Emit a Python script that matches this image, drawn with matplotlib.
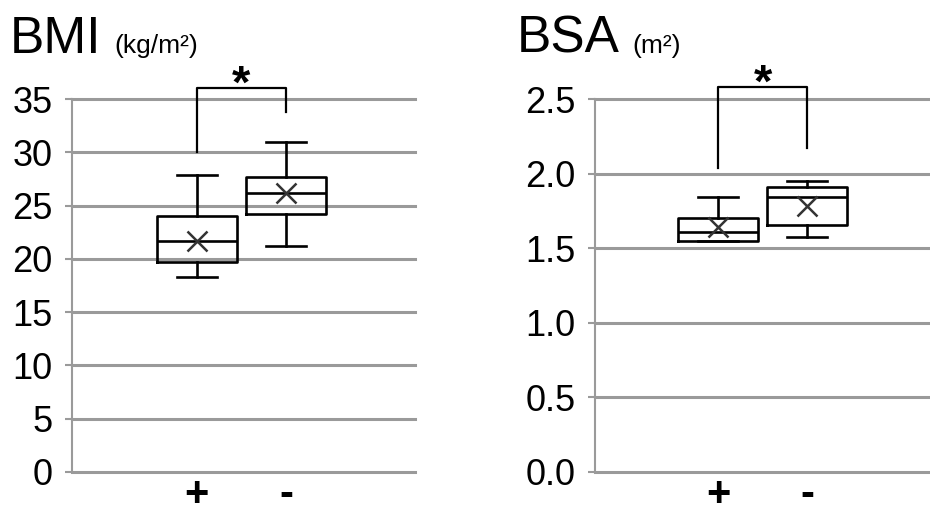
import matplotlib.pyplot as plt

plt.rcParams['font.family'] = ['Liberation Sans', 'DejaVu Sans']

groups = ["+", "-"]

# BMI (kg/m2) box stats
bmi_whislo = [18.3, 21.2]
bmi_q1 = [19.75, 24.2]
bmi_med = [21.7, 26.2]
bmi_q3 = [24.0, 27.7]
bmi_whishi = [27.9, 31.0]
bmi_mean = [21.7, 26.2]

# BSA (m2)
bsa_whislo = [1.545, 1.575]
bsa_q1 = [1.545, 1.655]
bsa_med = [1.61, 1.84]
bsa_q3 = [1.70, 1.91]
bsa_whishi = [1.84, 1.95]
bsa_mean = [1.645, 1.78]

bmi_ticks = [0, 5, 10, 15, 20, 25, 30, 35]
bsa_ticks = [0.0, 0.5, 1.0, 1.5, 2.0, 2.5]
bsa_labels = ["0.0", "0.5", "1.0", "1.5", "2.0", "2.5"]

# significance brackets: (left leg bottom, right leg bottom, top)
bmi_bracket = [30.0, 33.8, 36.0]
bsa_bracket = [2.04, 2.17, 2.58]


def make_stats(lo, q1, med, q3, hi, mean):
    stats = []
    for i in range(len(lo)):
        stats.append({"whislo": lo[i], "q1": q1[i], "med": med[i], "q3": q3[i],
                      "whishi": hi[i], "mean": mean[i], "fliers": [], "label": groups[i]})
    return stats


def draw_panel(ax, stats, ticks, labels, ymax, bracket, xlim):
    lw = 1.9
    grid_col = "#9a9a9a"
    ax.bxp(stats, positions=[1, 2], widths=0.89, showmeans=True,
           boxprops=dict(color="black", linewidth=lw),
           medianprops=dict(color="black", linewidth=lw),
           whiskerprops=dict(color="black", linewidth=lw),
           capprops=dict(color="black", linewidth=lw),
           capwidths=0.45,
           meanprops=dict(marker="x", markersize=15, markeredgecolor="#333333",
                          markeredgewidth=1.8))
    ax.set_xlim(xlim)
    ax.set_ylim(0, ymax)
    ax.set_yticks(ticks)
    ax.set_yticklabels(labels, fontsize=26)
    ax.set_xticks([1, 2])
    ax.set_xticklabels(groups, fontsize=30, fontweight="bold")
    ax.tick_params(axis="y", length=5, width=1.5, color=grid_col, pad=9, direction="out")
    ax.tick_params(axis="x", length=0, pad=2)
    for s in ax.spines.values():
        s.set_visible(False)
    ax.spines["left"].set_visible(True)
    ax.spines["left"].set_color(grid_col)
    ax.spines["left"].set_linewidth(1.5)
    ax.yaxis.grid(True, color=grid_col, linewidth=2.2)
    for gl in ax.get_ygridlines():
        gl.set_clip_on(False)
    ax.set_axisbelow(True)
    ax.plot([1, 1, 2, 2], [bracket[0], bracket[2], bracket[2], bracket[1]],
            color="black", linewidth=1.6, clip_on=False)
    ax.annotate("*", (1.5, bracket[2]), xytext=(0, 2), textcoords="offset points",
                fontsize=34, fontweight="bold", ha="center", va="center",
                annotation_clip=False)


fig = plt.figure(figsize=(9.3, 5.19), dpi=100)
ax1 = fig.add_axes([0.0774, 0.0906, 0.3688, 0.7186])
ax2 = fig.add_axes([0.6398, 0.0906, 0.3602, 0.7186])

draw_panel(ax1, make_stats(bmi_whislo, bmi_q1, bmi_med, bmi_q3, bmi_whishi, bmi_mean),
           bmi_ticks, [str(t) for t in bmi_ticks], 35, bmi_bracket, (-0.404, 3.45))
draw_panel(ax2, make_stats(bsa_whislo, bsa_q1, bsa_med, bsa_q3, bsa_whishi, bsa_mean),
           bsa_ticks, bsa_labels, 2.5, bsa_bracket, (-0.382, 3.38))

fig.text(0.011, 0.898, "BMI", fontsize=37, va="baseline")
fig.text(0.123, 0.898, "(kg/m²)", fontsize=19, va="baseline")
fig.text(0.556, 0.898, "BSA", fontsize=37, va="baseline")
fig.text(0.680, 0.898, "(m²)", fontsize=19, va="baseline")

plt.savefig("out.png", dpi=100)
